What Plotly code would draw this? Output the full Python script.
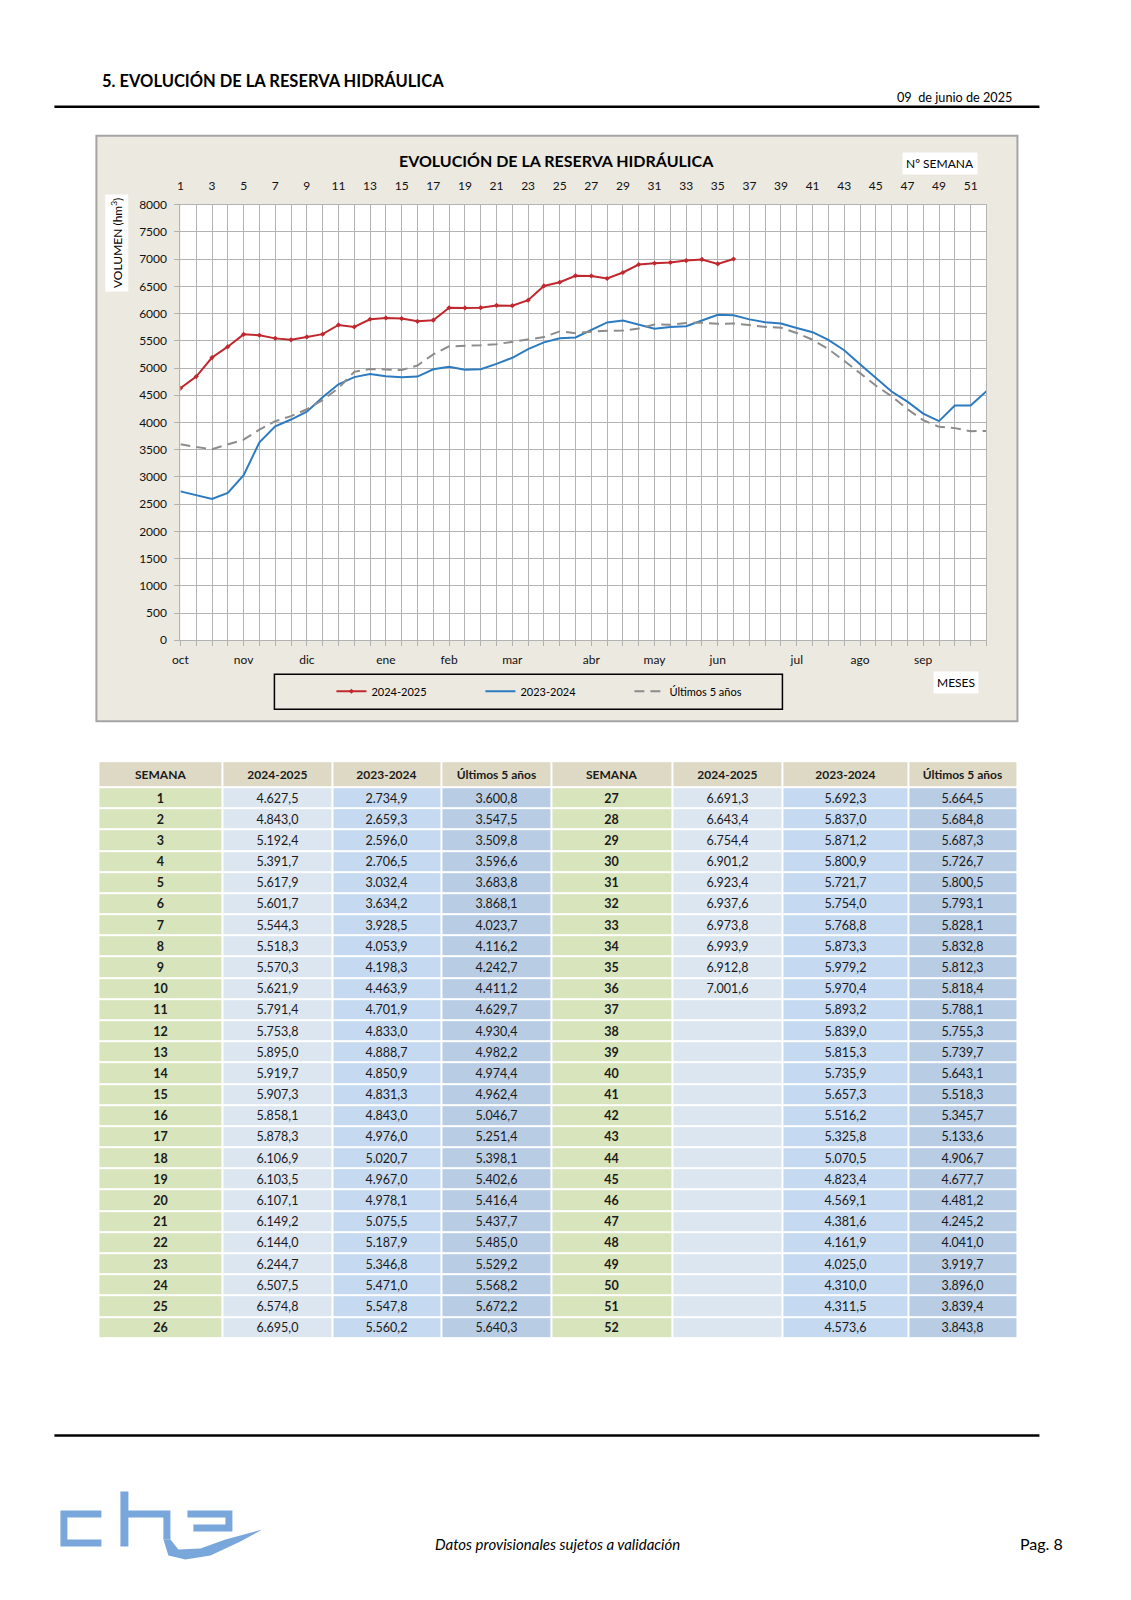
import plotly.graph_objects as go

# ---------------- data ----------------
weeks = list(range(1, 53))
s2425 = [4627.5, 4843.0, 5192.4, 5391.7, 5617.9, 5601.7, 5544.3, 5518.3, 5570.3, 5621.9,
         5791.4, 5753.8, 5895.0, 5919.7, 5907.3, 5858.1, 5878.3, 6106.9, 6103.5, 6107.1,
         6149.2, 6144.0, 6244.7, 6507.5, 6574.8, 6695.0, 6691.3, 6643.4, 6754.4, 6901.2,
         6923.4, 6937.6, 6973.8, 6993.9, 6912.8, 7001.6]
s2324 = [2734.9, 2659.3, 2596.0, 2706.5, 3032.4, 3634.2, 3928.5, 4053.9, 4198.3, 4463.9,
         4701.9, 4833.0, 4888.7, 4850.9, 4831.3, 4843.0, 4976.0, 5020.7, 4967.0, 4978.1,
         5075.5, 5187.9, 5346.8, 5471.0, 5547.8, 5560.2, 5692.3, 5837.0, 5871.2, 5800.9,
         5721.7, 5754.0, 5768.8, 5873.3, 5979.2, 5970.4, 5893.2, 5839.0, 5815.3, 5735.9,
         5657.3, 5516.2, 5325.8, 5070.5, 4823.4, 4569.1, 4381.6, 4161.9, 4025.0, 4310.0,
         4311.5, 4573.6]
s5y = [3600.8, 3547.5, 3509.8, 3596.6, 3683.8, 3868.1, 4023.7, 4116.2, 4242.7, 4411.2,
       4629.7, 4930.4, 4982.2, 4974.4, 4962.4, 5046.7, 5251.4, 5398.1, 5402.6, 5416.4,
       5437.7, 5485.0, 5529.2, 5568.2, 5672.2, 5640.3, 5664.5, 5684.8, 5687.3, 5726.7,
       5800.5, 5793.1, 5828.1, 5832.8, 5812.3, 5818.4, 5788.1, 5755.3, 5739.7, 5643.1,
       5518.3, 5345.7, 5133.6, 4906.7, 4677.7, 4481.2, 4245.2, 4041.0, 3919.7, 3896.0,
       3839.4, 3843.8]
month_weeks = [1, 5, 9, 14, 18, 22, 27, 31, 35, 40, 44, 48]
month_names = ["oct", "nov", "dic", "ene", "feb", "mar", "abr", "may", "jun", "jul", "ago", "sep"]
week_ticks = list(range(1, 52, 2))
series_names = ["2024-2025", "2023-2024", "Últimos 5 años"]
table_headers = ["SEMANA", "2024-2025", "2023-2024", "Últimos 5 años"]

# ---------------- helpers ----------------
PAGE_W, PAGE_H, BODY = 1131, 1600, 8
W, H = PAGE_W - 2 * BODY, PAGE_H - 2 * BODY
FONT = "Lato"
# observed capture mapping: picture = A * page + B
AX, BX, AY, BY = 0.9928, 7.65, 0.9914, 7.25


def px(x):
    return ((x - BX) / AX - BODY) / W


def py(y):
    return 1 - ((y - BY) / AY - BODY) / H


def es(v):
    s = f"{v:,.1f}"
    return s.replace(",", "X").replace(".", ",").replace("X", ".")


def poly(points):
    return "M " + " L ".join(f"{px(x):.5f},{py(y):.5f}" for x, y in points) + " Z"


GRID = "#B3B3B3"
RED = "#C0282D"
BLUE = "#2C7BC0"
GREY = "#8C8C8C"

fig = go.Figure()

fig.add_trace(go.Scatter(x=weeks[:len(s2425)], y=s2425, name=series_names[0],
                         mode="lines+markers", line=dict(color=RED, width=2),
                         marker=dict(size=4, color=RED, symbol="diamond"), hoverinfo="skip"))
fig.add_trace(go.Scatter(x=weeks, y=s2324, name=series_names[1], mode="lines",
                         line=dict(color=BLUE, width=2), hoverinfo="skip"))
fig.add_trace(go.Scatter(x=weeks, y=s5y, name=series_names[2], mode="lines",
                         line=dict(color=GREY, width=2, dash="10px,6px"), hoverinfo="skip"))
fig.add_trace(go.Scatter(x=[1, 52], y=[None, None], xaxis="x2", showlegend=False,
                         hoverinfo="skip"))

# ---------------- table as heatmap ----------------
col_widths = [123.5, 110, 109, 110.5, 120.5, 110, 126, 109.5]
header_h, row_h = 26, 21.2
x_edges = [0]
for w in col_widths:
    x_edges.append(x_edges[-1] + w)
y_edges = [0, header_h] + [header_h + row_h * k for k in range(1, 27)]

z_rows, t_rows = [], []
z_rows.append([0] * 8)
t_rows.append([f"<span style='font-size:12px'><b>{h}</b></span>" for h in table_headers] * 2)
for r in range(26):
    zr, tr = [], []
    for half in range(2):
        i = r + 26 * half
        zr += [1, 2, 3, 4]
        tr += [f"<b>{weeks[i]}</b>",
               es(s2425[i]) if i < len(s2425) else " ",
               es(s2324[i]), es(s5y[i])]
    z_rows.append(zr)
    t_rows.append(tr)

cell_colors = ["#DDD9C4", "#D8E4BC", "#DCE6F1", "#C5D9F1", "#B8CCE4"]
cscale = []
for k, c in enumerate(cell_colors):
    cscale.append([k / 5, c])
    cscale.append([(k + 1) / 5, c])

fig.add_trace(go.Heatmap(x=x_edges, y=y_edges, z=z_rows, text=t_rows,
                         texttemplate="%{text}", colorscale=cscale, zmin=-0.5, zmax=4.5,
                         showscale=False, xgap=2, ygap=2, hoverinfo="skip",
                         textfont=dict(family=FONT, size=12.5, color="#1a1a1a"),
                         xaxis="x3", yaxis="y3"))

# ---------------- shapes ----------------
shapes = []
shapes.append(dict(type="rect", xref="paper", yref="paper", x0=px(96), x1=px(1017),
                   y0=py(721), y1=py(135), fillcolor="#ECE9E0",
                   line=dict(color="#A5A5A5", width=2), layer="below"))
shapes.append(dict(type="rect", xref="paper", yref="paper", x0=px(180), x1=px(986),
                   y0=py(640), y1=py(204), fillcolor="white", line=dict(width=0),
                   layer="below"))
shapes.append(dict(type="rect", xref="paper", yref="paper", x0=px(274), x1=px(782),
                   y0=py(709), y1=py(674), line=dict(color="black", width=1.5),
                   fillcolor="rgba(0,0,0,0)"))
for yy in (106, 1436):
    shapes.append(dict(type="line", xref="paper", yref="paper", x0=px(54), x1=px(1039),
                       y0=py(yy), y1=py(yy), line=dict(color="black", width=2.5)))

LOGO = "#79A6DB"
logo_polys = [
    [(60, 1511), (101, 1511), (101, 1518), (67, 1518), (67, 1540), (101, 1540), (101, 1547), (60, 1547)],
    [(120, 1492), (128, 1492), (128, 1511), (170, 1511), (170, 1540), (163, 1540), (163, 1518),
     (128, 1518), (128, 1547), (120, 1547)],
    [(187, 1511), (232, 1511), (232, 1532), (193, 1532), (193, 1525), (225, 1525), (225, 1518), (187, 1518)],
    [(163, 1540), (170, 1540), (178, 1550), (200, 1549), (225, 1540), (262, 1530), (240, 1542),
     (210, 1556), (185, 1560), (168, 1556)],
]
for p in logo_polys:
    shapes.append(dict(type="path", xref="paper", yref="paper", path=poly(p),
                       fillcolor=LOGO, line=dict(width=0)))


# ---------------- annotations ----------------
def note(text, x, y, xanchor="center", size=11.5, **kw):
    d = dict(text=text, x=px(x), y=py(y), xref="paper", yref="paper", xanchor=xanchor,
             yanchor="middle", showarrow=False,
             font=dict(family=FONT, size=size, color="black"))
    d.update(kw)
    return d


ann = [
    note("<b>5. EVOLUCIÓN DE LA RESERVA HIDRÁULICA</b>", 100, 80, "left", 16.5),
    note("09  de junio de 2025", 1014, 96, "right", 12.7),
    note("<b>EVOLUCIÓN DE LA RESERVA HIDRÁULICA</b>", 556, 160, "center", 16),
    note("Nº SEMANA", 940, 163, "center", 12, bgcolor="white", borderpad=3),
    note("MESES", 956, 682, "center", 12, bgcolor="white", borderpad=3),
    note("VOLUMEN (hm<sup>3</sup>)", 116, 242, "center", 12, textangle=-90,
         bgcolor="white", borderpad=3),
    note("<i>Datos provisionales sujetos a validación</i>", 557, 1545, "center", 15),
    note("Pag. 8", 1065, 1544, "right", 16),
]

fig.update_layout(
    width=W, height=H, autosize=False,
    margin=dict(l=0, r=0, t=0, b=0, pad=0),
    paper_bgcolor="white", plot_bgcolor="white",
    font=dict(family=FONT, color="black"),
    shapes=shapes, annotations=ann,
    showlegend=True,
    legend=dict(orientation="h", x=px(331), y=py(691), xanchor="left", yanchor="middle",
                bgcolor="rgba(0,0,0,0)", borderwidth=0, entrywidth=104,
                entrywidthmode="pixels", font=dict(family=FONT, size=11, color="black"),
                traceorder="normal"),
    xaxis=dict(domain=[px(180), px(986)], range=[1, 52], anchor="y",
               tickmode="array", tickvals=month_weeks, ticktext=month_names,
               ticks="outside", ticklen=5, tickcolor=GRID, tickwidth=1,
               showgrid=True, gridcolor=GRID, gridwidth=1,
               showline=True, linecolor=GRID, linewidth=1, mirror=True,
               tickfont=dict(family=FONT, size=12, color="#111"),
               ticklabelstandoff=3, zeroline=False,
               minor=dict(tickmode="linear", tick0=1, dtick=1, ticks="outside", ticklen=5,
                          tickcolor=GRID, showgrid=True, gridcolor=GRID, gridwidth=1)),
    xaxis2=dict(overlaying="x", side="top", anchor="y", range=[1, 52], tickmode="array",
                tickvals=week_ticks, ticktext=[str(w) for w in week_ticks], ticks="",
                showgrid=False, showline=False, zeroline=False,
                tickfont=dict(family=FONT, size=12, color="#111"), ticklabelstandoff=11),
    yaxis=dict(domain=[py(640), py(204)], range=[0, 8000], dtick=500, tick0=0,
               ticks="outside", ticklen=5, tickcolor=GRID, showgrid=True, gridcolor=GRID,
               gridwidth=1, showline=True, linecolor=GRID, mirror=True, zeroline=False,
               tickfont=dict(family=FONT, size=12, color="#111"), ticklabelstandoff=5),
    xaxis3=dict(domain=[px(98), px(1017)], range=[0, x_edges[-1]], anchor="y3",
                visible=False, fixedrange=True),
    yaxis3=dict(domain=[py(761 + y_edges[-1]), py(761)], range=[y_edges[-1], 0], anchor="x3",
                visible=False, fixedrange=True),
)

fig.write_html("out.html")
